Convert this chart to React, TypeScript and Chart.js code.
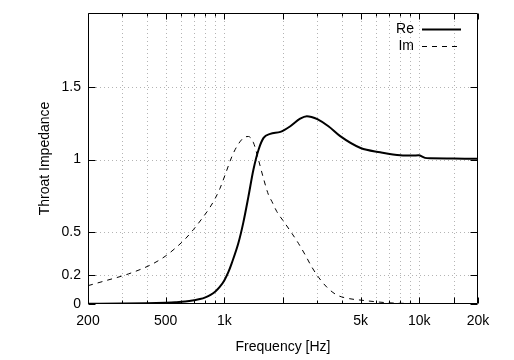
import React, { useEffect, useRef } from "react";
import { Chart, registerables } from "chart.js";

Chart.register(...registerables);

// ---- data ----
const reFreq = [200, 300, 400, 500, 560, 630, 700, 750, 800, 850, 900, 950, 1000, 1050, 1090, 1180, 1250, 1330, 1410, 1500, 1590, 1720, 1940, 2180, 2450, 2650, 2800, 3000, 3420, 3930, 5000, 6300, 8000, 9300, 9900, 10700, 11400, 15000, 20000];
const reValues = [0.002, 0.003, 0.005, 0.009, 0.012, 0.017, 0.026, 0.034, 0.046, 0.063, 0.087, 0.12, 0.163, 0.222, 0.28, 0.42, 0.56, 0.745, 0.93, 1.07, 1.15, 1.178, 1.192, 1.231, 1.283, 1.3, 1.295, 1.28, 1.231, 1.162, 1.08, 1.051, 1.03, 1.028, 1.03, 1.012, 1.009, 1.008, 1.005];

const imFreq = [200, 244, 322, 425, 497, 559, 630, 694, 767, 845, 897, 950, 1010, 1093, 1159, 1254, 1329, 1412, 1496, 1588, 1684, 1754, 1859, 2028, 2219, 2400, 2599, 2813, 3043, 3359, 3777, 4385, 5080, 5943, 6824, 8000, 10000, 14000, 20000];
const imValues = [0.127, 0.16, 0.208, 0.275, 0.33, 0.385, 0.45, 0.515, 0.59, 0.67, 0.73, 0.8, 0.895, 1.02, 1.09, 1.15, 1.16, 1.116, 1.0, 0.87, 0.757, 0.71, 0.64, 0.567, 0.49, 0.42, 0.34, 0.255, 0.185, 0.116, 0.0625, 0.037, 0.026, 0.016, 0.009, 0.005, 0.003, 0.002, 0.001];

const seriesNames = ["Re", "Im"];
const xTitle = "Frequency [Hz]";
const yTitle = "Throat Impedance";

const xMin = 200;
const xMax = 20000;
const yMin = 0;
const yMax = 2.015;

const xGridValues = [200, 300, 400, 500, 600, 700, 800, 900, 1000, 2000, 3000, 4000, 5000, 6000, 7000, 8000, 9000, 10000, 15000, 20000];
const xLabelValues = [200, 500, 1000, 5000, 10000, 20000];
const xLabelTexts = ["200", "500", "1k", "5k", "10k", "20k"];
const xMajorTickValues = [200, 500, 1000, 2000, 5000, 10000, 15000, 20000];
const yTickValues = [0, 0.2, 0.5, 1, 1.5];
const yTickTexts = ["0", "0.2", "0.5", "1", "1.5"];

const FONT_FAMILY = '"Liberation Sans", Arial, Helvetica, sans-serif';

const framePlugin = {
  id: "gnuFrame",
  beforeDatasetsDraw(chart: any) {
    const { ctx, chartArea: a, scales } = chart;
    const xs = scales.x;
    const ys = scales.y;
    ctx.save();
    ctx.strokeStyle = "#b4b4b4";
    ctx.lineWidth = 1;
    ctx.setLineDash([1, 3]);
    ctx.beginPath();
    for (const v of xGridValues) {
      if (v === xMin || v === xMax) continue;
      const px = Math.round(xs.getPixelForValue(v)) + 0.5;
      ctx.moveTo(px, a.top);
      ctx.lineTo(px, a.bottom);
    }
    for (const v of yTickValues) {
      if (v === yMin) continue;
      const py = Math.round(ys.getPixelForValue(v)) + 0.5;
      ctx.moveTo(a.left, py);
      ctx.lineTo(a.right, py);
    }
    ctx.stroke();
    ctx.restore();
  },
  afterDatasetsDraw(chart: any) {
    const { ctx, chartArea: a, scales } = chart;
    const xs = scales.x;
    const ys = scales.y;
    const L = Math.round(a.left) + 0.5;
    const R = Math.round(a.right) - 0.5;
    const T = Math.round(a.top) + 0.5;
    const B = Math.round(a.bottom) - 0.5;
    ctx.save();
    ctx.setLineDash([]);
    ctx.strokeStyle = "#000";
    ctx.lineWidth = 1;
    ctx.beginPath();
    for (const v of xGridValues) {
      const px = Math.round(xs.getPixelForValue(v)) + 0.5;
      const len = xMajorTickValues.indexOf(v) >= 0 ? 6 : 3;
      ctx.moveTo(px, B);
      ctx.lineTo(px, B - len);
      ctx.moveTo(px, T);
      ctx.lineTo(px, T + len);
    }
    for (const v of yTickValues) {
      const py = Math.round(ys.getPixelForValue(v)) + 0.5;
      ctx.moveTo(L, py);
      ctx.lineTo(L + 7, py);
      ctx.moveTo(R, py);
      ctx.lineTo(R - 7, py);
    }
    ctx.stroke();
    ctx.beginPath();
    ctx.rect(L, T, R - L, B - T);
    ctx.stroke();

    // legend
    const datasets = chart.data.datasets;
    ctx.font = `14px ${FONT_FAMILY}`;
    ctx.fillStyle = "#000";
    ctx.textAlign = "right";
    ctx.textBaseline = "middle";
    const textRight = a.right - 64;
    const sampleStart = a.right - 56;
    const sampleEnd = a.right - 17;
    datasets.forEach((ds: any, i: number) => {
      const y = a.top + 16 + i * 17;
      ctx.fillText(ds.label, textRight, y);
      ctx.beginPath();
      ctx.lineWidth = ds.borderWidth;
      ctx.setLineDash(ds.borderDash || []);
      ctx.moveTo(sampleStart, Math.round(y) + 0.5);
      ctx.lineTo(sampleEnd, Math.round(y) + 0.5);
      ctx.stroke();
    });
    ctx.restore();
  },
};

export default function App() {
  const canvasRef = useRef<HTMLCanvasElement | null>(null);

  useEffect(() => {
    const canvas = canvasRef.current;
    if (!canvas) return;
    const chart = new Chart(canvas, {
      type: "line",
      data: {
        datasets: [
          {
            label: seriesNames[0],
            data: reFreq.map((f, i) => ({ x: f, y: reValues[i] })),
            borderColor: "#000",
            borderWidth: 2,
            pointRadius: 0,
            fill: false,
            cubicInterpolationMode: "monotone",
          },
          {
            label: seriesNames[1],
            data: imFreq.map((f, i) => ({ x: f, y: imValues[i] })),
            borderColor: "#000",
            borderWidth: 1,
            borderDash: [5, 5],
            pointRadius: 0,
            fill: false,
            cubicInterpolationMode: "monotone",
          },
        ],
      },
      options: {
        animation: false,
        responsive: false,
        devicePixelRatio: 1,
        layout: { padding: { top: 13, right: 36, left: 0, bottom: 0 } },
        plugins: {
          legend: { display: false },
          tooltip: { enabled: false },
        },
        scales: {
          x: {
            type: "logarithmic",
            min: xMin,
            max: xMax,
            grid: { display: false, drawTicks: false },
            border: { display: false },
            afterBuildTicks: (scale: any) => {
              scale.ticks = xGridValues.map((v) => ({ value: v }));
            },
            afterFit: (scale: any) => {
              scale.height = 56;
              scale.paddingLeft = 0;
              scale.paddingRight = 0;
            },
            ticks: {
              autoSkip: false,
              maxRotation: 0,
              minRotation: 0,
              padding: 9,
              color: "#000",
              font: { family: FONT_FAMILY, size: 14 },
              callback: (v: any) => {
                const idx = xLabelValues.indexOf(Number(v));
                return idx >= 0 ? xLabelTexts[idx] : "";
              },
            },
            title: {
              display: true,
              text: xTitle,
              color: "#000",
              font: { family: FONT_FAMILY, size: 14 },
              padding: { top: 0, bottom: 4.6 },
            },
          },
          y: {
            type: "linear",
            min: yMin,
            max: yMax,
            grid: { display: false, drawTicks: false },
            border: { display: false },
            afterBuildTicks: (scale: any) => {
              scale.ticks = yTickValues.map((v) => ({ value: v }));
            },
            afterFit: (scale: any) => {
              scale.width = 88;
              scale.paddingTop = 0;
              scale.paddingBottom = 0;
            },
            ticks: {
              autoSkip: false,
              padding: 7,
              color: "#000",
              font: { family: FONT_FAMILY, size: 14 },
              callback: (v: any) => {
                const idx = yTickValues.indexOf(Number(v));
                return idx >= 0 ? yTickTexts[idx] : "";
              },
            },
            title: {
              display: true,
              text: yTitle,
              color: "#000",
              font: { family: FONT_FAMILY, size: 14 },
              padding: { top: 36.6, bottom: 0 },
            },
          },
        },
      } as any,
      plugins: [framePlugin as any],
    });
    return () => chart.destroy();
  }, []);

  return (
    <div style={{ position: "absolute", left: 0, top: 0, width: 514, height: 360, background: "#fff" }}>
      <canvas ref={canvasRef} width={514} height={360} style={{ display: "block" }} />
    </div>
  );
}
